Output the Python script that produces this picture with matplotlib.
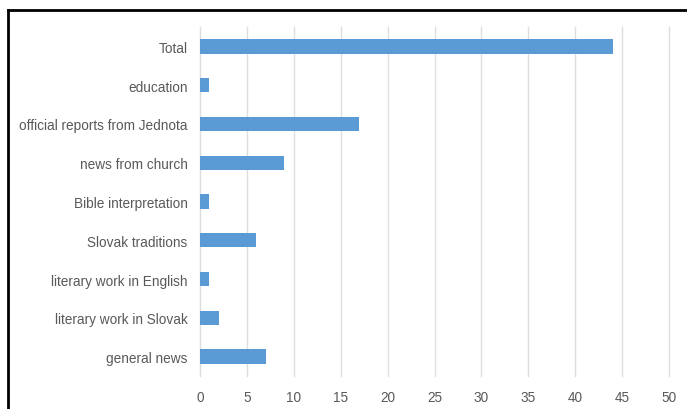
import matplotlib.pyplot as plt
from matplotlib.lines import Line2D

categories = ["general news", "literary work in Slovak", "literary work in English",
              "Slovak traditions", "Bible interpretation", "news from church",
              "official reports from Jednota", "education", "Total"]
counts = [7, 2, 1, 6, 1, 9, 17, 1, 44]
x_ticks = list(range(0, 55, 5))

plt.rcParams['font.family'] = ['Liberation Sans', 'DejaVu Sans']

fig = plt.figure(figsize=(6.87, 4.10), dpi=100)
ax = fig.add_axes([200 / 687, 1 - 377 / 410, 469 / 687, 349 / 410])

ax.barh(range(len(categories)), counts, height=0.37, color='#5b9bd5', zorder=3)
ax.set_xlim(0, 50)
ax.set_ylim(-0.5, len(categories) - 0.5)
ax.set_xticks(x_ticks)
ax.set_yticks(range(len(categories)))
ax.set_yticklabels(categories)
ax.grid(axis='x', color='#dedede', linewidth=1, zorder=0)
for gl in ax.get_xgridlines():
    gl.set_clip_on(False)
for s in ax.spines.values():
    s.set_visible(False)
ax.tick_params(length=0, labelsize=9.8, colors='#595959')
ax.tick_params(axis='x', pad=10)
ax.tick_params(axis='y', pad=9)

# frame lines along top and left edge
fig.add_artist(Line2D([8 / 687, 1], [1 - 11 / 410, 1 - 11 / 410], color='black', lw=2,
                      transform=fig.transFigure))
fig.add_artist(Line2D([8 / 687, 8 / 687], [0, 1 - 11 / 410], color='black', lw=2,
                      transform=fig.transFigure))

fig.savefig('out.png', dpi=100)
